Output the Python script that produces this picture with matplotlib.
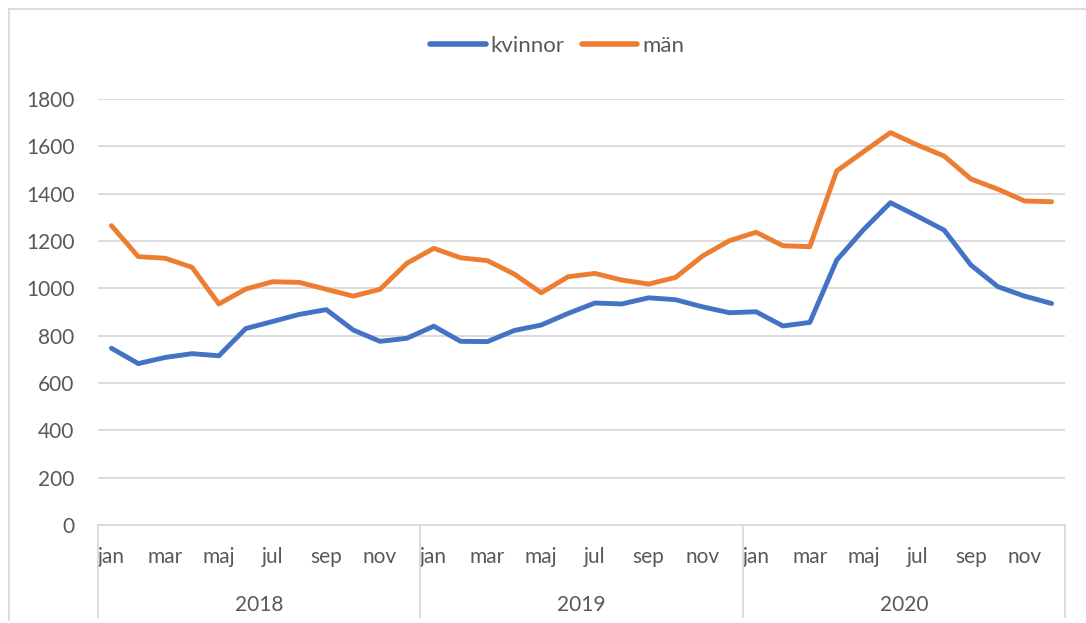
import matplotlib
matplotlib.use("Agg")
from matplotlib import pyplot as plt
from matplotlib.lines import Line2D
import matplotlib.transforms as mtransforms

# DATA
years = ['2018', '2019', '2020']
months = ['jan', 'feb', 'mar', 'apr', 'maj', 'jun', 'jul', 'aug', 'sep', 'okt', 'nov', 'dec']

kvinnor = [747, 682, 708, 724, 715, 830, 860, 890, 910, 824, 776, 789,
           840, 776, 775, 822, 845, 894, 938, 934, 960, 952, 922, 897,
           901, 841, 856, 1119, 1248, 1362, 1305, 1246, 1098, 1007, 967, 936]
man = [1265, 1134, 1127, 1089, 934, 997, 1028, 1025, 996, 967, 996, 1106,
       1169, 1129, 1117, 1060, 981, 1049, 1063, 1035, 1018, 1046, 1136, 1201,
       1237, 1180, 1176, 1496, 1577, 1658, 1606, 1559, 1462, 1419, 1369, 1366]

# STYLE
BLUE = '#4472C4'
ORANGE = '#ED7D31'
GRID = '#D9D9D9'
TEXT = '#595959'
plt.rcParams['font.family'] = ['Lato', 'DejaVu Sans']

fig = plt.figure(figsize=(10.86, 6.23), dpi=100)
ax = fig.add_axes([98 / 1086, 1 - 525 / 623, (1065 - 98) / 1086, (525 - 99) / 623])

x = list(range(len(kvinnor)))
ax.plot(x, kvinnor, color=BLUE, lw=3.5, solid_joinstyle='round', solid_capstyle='round', label='kvinnor')
ax.plot(x, man, color=ORANGE, lw=3.5, solid_joinstyle='round', solid_capstyle='round', label='män')

# Axes limits and ticks
ax.set_xlim(-0.5, len(x) - 0.5)
ax.set_ylim(0, 1800)
ax.set_yticks(range(0, 1801, 200))
ax.tick_params(axis='y', length=0, pad=17, labelsize=15, labelcolor=TEXT)

tick_pos = list(range(0, len(x), 2))
tick_lab = [months[i % 12] for i in tick_pos]
ax.set_xticks(tick_pos)
ax.set_xticklabels(tick_lab)
ax.tick_params(axis='x', length=0, pad=16, labelsize=15, labelcolor=TEXT)

ax.grid(axis='y', color=GRID, lw=1.3)
ax.set_axisbelow(True)
for side in ['left', 'right', 'top']:
    ax.spines[side].set_visible(False)
ax.spines['bottom'].set_color(GRID)
ax.spines['bottom'].set_linewidth(1.3)

# Year level of the category axis
trans = mtransforms.blended_transform_factory(ax.transData, ax.transAxes)
for k in range(len(years) + 1):
    xs = k * 12 - 0.5
    ax.plot([xs, xs], [0, -0.216], color=GRID, lw=1.3, transform=trans, clip_on=False)
for k, yr in enumerate(years):
    ax.text(k * 12 + 5.5, -0.188, yr, transform=trans, ha='center', va='center',
            fontsize=15, color=TEXT)

# Legend
handles = [Line2D([], [], color=BLUE, lw=4, solid_capstyle='round'),
           Line2D([], [], color=ORANGE, lw=4, solid_capstyle='round')]
fig.legend(handles, ['kvinnor', 'män'], loc='center', bbox_to_anchor=(557 / 1086, 1 - 46 / 623),
           ncol=2, frameon=False, fontsize=16, handlelength=2.5, handletextpad=0.2,
           columnspacing=0.8, labelcolor=TEXT)

# Chart area border
fig.add_artist(Line2D([9 / 1086, 9 / 1086], [1 - 9 / 623, 1 - 620 / 623], color=GRID, lw=1.3))
fig.add_artist(Line2D([9 / 1086, 1.0], [1 - 9 / 623, 1 - 9 / 623], color=GRID, lw=1.3))

fig.savefig('out.png', dpi=100)
